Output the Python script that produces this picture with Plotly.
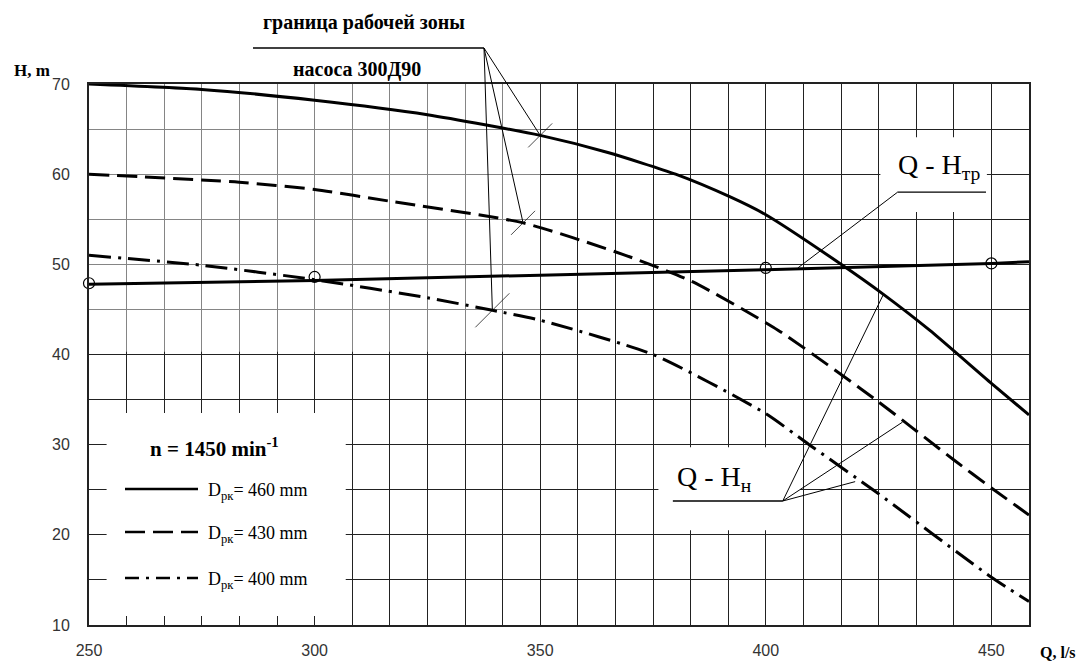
import plotly.graph_objects as go

# ---------------- data ----------------
# Pump characteristics Q-H for three impeller diameters
Q_460 = [250, 275, 300, 325, 350, 365, 380, 392, 400, 417, 426, 436.3, 450, 458.33]
H_460 = [70.0, 69.4, 68.2, 66.6, 64.3, 62.4, 60.0, 57.5, 55.5, 49.9, 46.7, 42.7, 36.8, 33.3]

Q_430 = [250, 283.3, 300, 316.7, 346.2, 368.9, 383.6, 402.7, 424.3, 441.7, 450, 458.33]
H_430 = [60.0, 59.1, 58.3, 57.0, 54.6, 51.0, 48.1, 42.7, 35.0, 28.3, 25.2, 22.2]

Q_400 = [250, 275, 300, 325, 339.4, 350, 375, 399.8, 409.6, 424.3, 450, 458.33]
H_400 = [51.0, 49.9, 48.3, 46.3, 44.9, 43.8, 40.0, 33.5, 30.0, 24.8, 15.3, 12.6]

# System curve Q-H_tr
Q_TR = [250, 300, 350, 400, 450, 458.33]
H_TR = [47.8, 48.2, 48.8, 49.4, 50.1, 50.3]
Q_TR_PTS = [250, 300, 400, 450]
H_TR_PTS = [47.9, 48.6, 49.6, 50.1]

# Working zone boundary marks (460, 430, 400)
Q_ZONE = [350.0, 346.2, 339.4]
H_ZONE = [64.3, 54.6, 44.9]

# Leader end points for the "Q - H_н" label (on 460, 430, 400 curves)
Q_HN_PTS = [426.1, 430.3, 419.8]
H_HN_PTS = [46.7, 32.5, 25.9]
# Leader end point for the "Q - H_тр" label
Q_TR_LEAD = 407.1
H_TR_LEAD = 49.6

X_TICKS = [250, 300, 350, 400, 450]
X_TICK_LABELS = ["250", "300", "350", "400", "450"]
Y_TICKS = [10, 20, 30, 40, 50, 60, 70]
Y_TICK_LABELS = ["10", "20", "30", "40", "50", "60", "70"]
LEGEND_LABELS = ["D<sub>рк</sub>= 460 mm", "D<sub>рк</sub>= 430 mm", "D<sub>рк</sub>= 400 mm"]

# ---------------- layout geometry ----------------
FW, FH = 1082, 664
ML, MR, MT, MB = 89, 53, 84, 39
STEP = 50 / 6
X0, X1 = 250, 250 + 25 * STEP
Y0, Y1 = 10, 70


def pxx(xp):
    return (xp - ML) / (FW - ML - MR)


def pxy(yp):
    return (FH - MB - yp) / (FH - MT - MB)


def dxx(q):  # data -> paper (x)
    return (q - X0) / (X1 - X0)


def dxy(h):  # data -> paper (y)
    return (h - Y0) / (Y1 - Y0)


SERIF = "Liberation Serif, Times New Roman, serif"
NARROW = "Liberation Sans Narrow, Arial Narrow, Liberation Sans, sans-serif"
GRID = "#222"

fig = go.Figure()

line_w = 3
fig.add_trace(go.Scatter(x=Q_460, y=H_460, mode="lines", showlegend=False,
                         line=dict(color="black", width=line_w, shape="spline", smoothing=0.6)))
fig.add_trace(go.Scatter(x=Q_430, y=H_430, mode="lines", showlegend=False,
                         line=dict(color="black", width=line_w, dash="20px,8px", shape="spline", smoothing=0.6)))
fig.add_trace(go.Scatter(x=Q_400, y=H_400, mode="lines", showlegend=False,
                         line=dict(color="black", width=line_w, dash="22px,7px,3px,7px", shape="spline", smoothing=0.6)))
fig.add_trace(go.Scatter(x=Q_TR, y=H_TR, mode="lines", showlegend=False,
                         line=dict(color="black", width=line_w)))
fig.add_trace(go.Scatter(x=Q_TR_PTS, y=H_TR_PTS, mode="markers", showlegend=False, cliponaxis=False,
                         marker=dict(symbol="circle-open", size=11, color="black", line=dict(width=1.2))))
fig.add_trace(go.Scatter(x=Q_ZONE, y=H_ZONE, mode="markers", showlegend=False,
                         marker=dict(symbol="line-ne", size=[24, 24, 34], color="black",
                                     line=dict(width=1, color="black"))))

shapes = []
# white areas (labels / legend) covering the grid
for (xa, xb, ya, yb) in [(253.9, 306.9, 11.0, 33.5), (425.4, 449.0, 55.8, 64.1), (376.2, 407.6, 20.5, 29.7)]:
    shapes.append(dict(type="rect", xref="x", yref="y", x0=xa, x1=xb, y0=ya, y1=yb,
                       fillcolor="white", line=dict(width=0), layer="between"))
# lighter grid in upper-left (scan look)
shapes.append(dict(type="rect", xref="x", yref="y", x0=250, x1=350, y0=40.3, y1=70,
                   fillcolor="rgba(255,255,255,0.45)", line=dict(width=0), layer="between"))

# legend sample lines
dashes = ["solid", "20px,8px", "14px,7px,3px,7px"]
leg_y = [489, 532, 578]
for d, yy in zip(dashes, leg_y):
    shapes.append(dict(type="line", xref="paper", yref="paper", x0=pxx(125), x1=pxx(198),
                       y0=pxy(yy), y1=pxy(yy), line=dict(color="black", width=2.5, dash=d)))

# underline of top label + leaders to the working-zone marks
TOP_X, TOP_Y = pxx(484), pxy(48)
shapes.append(dict(type="line", xref="paper", yref="paper", x0=pxx(253), x1=TOP_X,
                   y0=TOP_Y, y1=TOP_Y, line=dict(color="black", width=1.3)))
for q, h in zip(Q_ZONE, H_ZONE):
    shapes.append(dict(type="line", xref="paper", yref="paper", x0=TOP_X, y0=TOP_Y,
                       x1=dxx(q), y1=dxy(h), line=dict(color="black", width=1)))

# Q-H_tr label underline and leader
shapes.append(dict(type="line", xref="x", yref="y", x0=429.2, x1=448.8, y0=58.0, y1=58.0,
                   line=dict(color="black", width=1.3)))
shapes.append(dict(type="line", xref="x", yref="y", x0=429.2, y0=58.0, x1=Q_TR_LEAD, y1=H_TR_LEAD,
                   line=dict(color="black", width=1)))
# Q-H_н label underline and leaders
HN_X, HN_Y = 403.75, 23.75
shapes.append(dict(type="line", xref="x", yref="y", x0=379.4, x1=HN_X, y0=HN_Y, y1=HN_Y,
                   line=dict(color="black", width=1.3)))
for q, h in zip(Q_HN_PTS, H_HN_PTS):
    shapes.append(dict(type="line", xref="x", yref="y", x0=HN_X, y0=HN_Y, x1=q, y1=h,
                       line=dict(color="black", width=1)))

annotations = []


def text(x, y, s, size, bold=False, xanchor="center", family=SERIF, color="black"):
    annotations.append(dict(x=pxx(x), y=pxy(y), xref="paper", yref="paper", text=(f"<b>{s}</b>" if bold else s),
                            showarrow=False, xanchor=xanchor, yanchor="middle",
                            font=dict(family=family, size=size, color=color)))


text(364, 23, "граница рабочей зоны", 20, bold=True)
text(357, 69, "насоса 300Д90", 20, bold=True)
text(32, 71, "H, m", 17, bold=True)
text(1058, 652, "Q, l/s", 16, bold=True)
text(214, 447, "n = 1450 min<sup>-1</sup>", 21, bold=True)
for lab, yy in zip(LEGEND_LABELS, leg_y):
    text(206, yy + 2, lab, 18, xanchor="left")
text(939, 166, "Q - H<sub>тр</sub>", 28)
text(714, 478, "Q - H<sub>н</sub>", 28)

fig.update_layout(
    width=FW, height=FH, autosize=False,
    margin=dict(l=ML, r=MR, t=MT, b=MB, pad=0),
    paper_bgcolor="white", plot_bgcolor="white",
    shapes=shapes, annotations=annotations, showlegend=False,
    xaxis=dict(range=[X0, X1], tickmode="array", tickvals=X_TICKS, ticktext=X_TICK_LABELS,
               automargin=False,
               showgrid=True, gridcolor=GRID, gridwidth=1.2, zeroline=False,
               minor=dict(tick0=X0, dtick=STEP, showgrid=True, gridcolor=GRID, gridwidth=1.2, ticks=""),
               showline=True, linecolor=GRID, linewidth=1.8, mirror=True, ticks="",
               ticklabelstandoff=10, tickfont=dict(family=NARROW, size=16, color="#333")),
    yaxis=dict(range=[Y0, Y1], tickmode="array", tickvals=Y_TICKS, ticktext=Y_TICK_LABELS,
               automargin=False,
               showgrid=True, gridcolor=GRID, gridwidth=1.2, zeroline=False,
               minor=dict(tick0=Y0, dtick=5, showgrid=True, gridcolor=GRID, gridwidth=1.2, ticks=""),
               showline=True, linecolor=GRID, linewidth=1.8, mirror=True, ticks="",
               ticklabelstandoff=14, tickfont=dict(family=NARROW, size=16, color="#333")),
)

fig.write_html("out.html")
